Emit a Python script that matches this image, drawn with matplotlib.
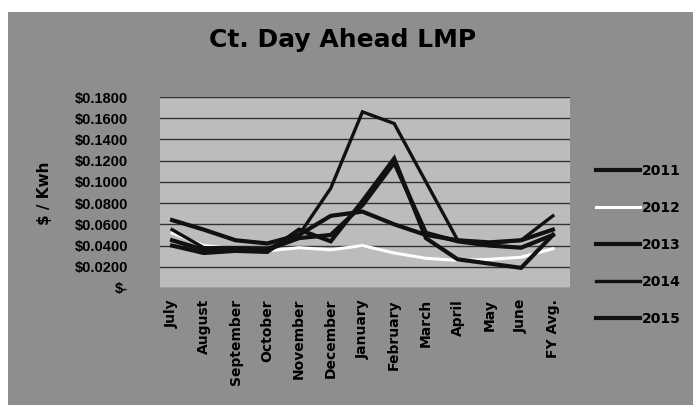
import matplotlib.pyplot as plt
from matplotlib.patches import Rectangle
from matplotlib.ticker import FuncFormatter

# Monthly Ct. Day Ahead LMP ($/kWh), fiscal years July-June
months = ['July', 'August', 'September', 'October', 'November', 'December',
          'January', 'February', 'March', 'April', 'May', 'June', 'FY Avg.']
fy2011 = [0.064, 0.055, 0.045, 0.042, 0.050, 0.068, 0.072, 0.060, 0.050, 0.045, 0.043, 0.045, 0.055]
fy2012 = [0.052, 0.040, 0.037, 0.035, 0.038, 0.036, 0.040, 0.033, 0.028, 0.026, 0.027, 0.029, 0.037]
fy2013 = [0.045, 0.036, 0.036, 0.036, 0.047, 0.050, 0.078, 0.118, 0.052, 0.044, 0.040, 0.038, 0.050]
fy2014 = [0.055, 0.038, 0.038, 0.037, 0.050, 0.094, 0.166, 0.155, 0.100, 0.045, 0.042, 0.045, 0.068]
fy2015 = [0.040, 0.033, 0.035, 0.034, 0.055, 0.044, 0.082, 0.122, 0.047, 0.027, 0.023, 0.019, 0.050]
years = ['2011', '2012', '2013', '2014', '2015']
series = [fy2011, fy2012, fy2013, fy2014, fy2015]

colores = ['#111111', '#ffffff', '#111111', '#111111', '#111111']
grosores = [3.0, 2.2, 3.0, 2.4, 3.0]

fig = plt.figure(figsize=(6.93, 4.05), dpi=100)
fig.patch.set_facecolor('white')
# gray chart area of the scan
fondo = Rectangle((8/693, 0), 1, 1 - 12/405, transform=fig.transFigure,
                  facecolor='#8e8e8e', edgecolor='none', zorder=-10)
fig.add_artist(fondo)

ax = fig.add_axes([160/693, 1 - 288/405, 410/693, 191/405])
ax.set_facecolor('#bcbcbc')

x = range(len(months))
for serie, anio, c, lw in zip(series, years, colores, grosores):
    ax.plot(x, serie, color=c, linewidth=lw, label=anio, solid_joinstyle='miter')

ax.set_ylim(0, 0.18)
ax.set_xlim(-0.38, 12.54)
ax.set_yticks([i * 0.02 for i in range(10)])
ax.yaxis.set_major_formatter(FuncFormatter(lambda v, p: '$-' if v < 1e-9 else f'${v:.4f}'))
ax.grid(axis='y', color='#333333', linewidth=1)
ax.set_axisbelow(True)
for s in ax.spines.values():
    s.set_visible(False)

ax.set_xticks(list(x))
ax.set_xticklabels(months, rotation=90, fontsize=10, fontweight='bold', va='top')
ax.tick_params(axis='x', length=0, pad=8)
ax.tick_params(axis='y', length=0, pad=23, labelsize=10)
for t in ax.get_yticklabels():
    t.set_fontweight('bold')
    t.set_family(['Liberation Sans', 'DejaVu Sans'])
    t.set_fontsize(10.5)

fig.text(45/693, 1 - 193/405, '$ / Kwh', rotation=90, ha='center', va='center',
         fontsize=11, fontweight='bold')
fig.text(343/693, 1 - 40/405, 'Ct. Day Ahead LMP', ha='center', va='center',
         fontsize=18, fontweight='bold')

fig.legend(loc='upper left', bbox_to_anchor=(596/693, 1 - 164/405), frameon=False,
           prop={'weight': 'bold', 'size': 10}, borderpad=0, borderaxespad=0,
           handlelength=3.2, handletextpad=0.1, labelspacing=1.65)

plt.savefig('out.png', facecolor=fig.get_facecolor())
